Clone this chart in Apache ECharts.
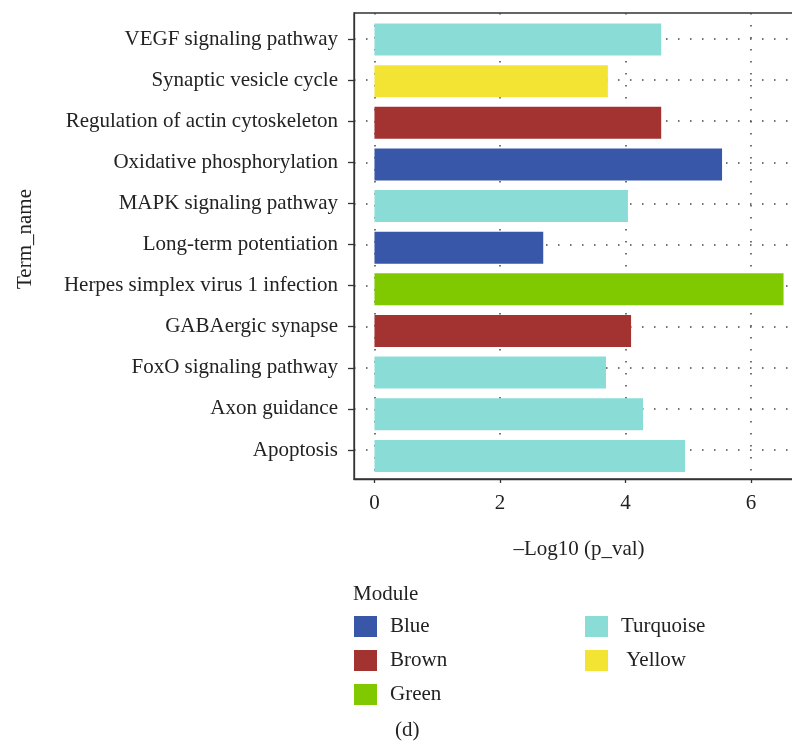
<!DOCTYPE html>
<html>
<head>
<meta charset="utf-8">
<script src="https://cdn.jsdelivr.net/npm/echarts@6/dist/echarts.min.js"></script>
<style>
  html, body { margin: 0; padding: 0; background: #fff; }
  #chart { width: 792px; height: 741px; }
</style>
</head>
<body>
<div id="chart"></div>
<script>
// KEGG pathway enrichment per co-expression module
const categories = [
  'VEGF signaling pathway',
  'Synaptic vesicle cycle',
  'Regulation of actin cytoskeleton',
  'Oxidative phosphorylation',
  'MAPK signaling pathway',
  'Long-term potentiation',
  'Herpes simplex virus 1 infection',
  'GABAergic synapse',
  'FoxO signaling pathway',
  'Axon guidance',
  'Apoptosis'
];
const logP = [4.57, 3.72, 4.57, 5.54, 4.04, 2.69, 6.52, 4.09, 3.69, 4.28, 4.95];
const termModule = ['Turquoise', 'Yellow', 'Brown', 'Blue', 'Turquoise', 'Blue',
                    'Green', 'Brown', 'Turquoise', 'Turquoise', 'Turquoise'];
const moduleNames = ['Blue', 'Brown', 'Green', 'Turquoise', 'Yellow'];
const moduleColors = ['#3957A8', '#A23330', '#80C800', '#8ADDD7', '#F3E434'];
const xTicks = [0, 2, 4, 6];

const FONT = 'Liberation Serif';
const FS = 21;
const INK = '#222';
const AXIS = '#333';

// panel range with 5% padding on both sides of the data
const dataMax = Math.max(...logP);
const xMin = -0.05 * dataMax;
const xMax = dataMax * 1.05;

// the panel runs past the right edge of the canvas
const gridLeft = 354;
const gridWidth = 450;
const gridCommon = { left: gridLeft, width: gridWidth, containLabel: false, outerBoundsMode: 'none' };

const chart = echarts.init(document.getElementById('chart'), null, { renderer: 'canvas' });

const dotted = { color: '#444', width: 1.5, type: [1.5, 10.5] };

const series = moduleNames.map((m, i) => ({
  name: m,
  type: 'bar',
  xAxisIndex: 1,
  yAxisIndex: 1,
  stack: 'terms',
  barWidth: 32,
  itemStyle: { color: moduleColors[i] },
  emphasis: { disabled: true },
  data: logP.map((v, j) => termModule[j] === m ? v : '-'),
  z: 3
}));

const legendBase = {
  orient: 'vertical',
  top: 616,
  itemWidth: 23,
  itemHeight: 21,
  itemGap: 13,
  icon: 'rect',
  padding: 0,
  selectedMode: false,
  textStyle: { fontFamily: FONT, fontSize: FS, color: INK, padding: [0, 0, 0, 8] }
};

chart.setOption({
  animation: false,
  textStyle: { fontFamily: FONT },
  title: [
    { text: 'Module', left: 353, top: 584, padding: 0,
      textStyle: { fontFamily: FONT, fontSize: FS, fontWeight: 'normal', color: INK } },
    { text: '(d)', left: 395, top: 720, padding: 0,
      textStyle: { fontFamily: FONT, fontSize: FS, fontWeight: 'normal', color: INK } }
  ],
  legend: [
    Object.assign({}, legendBase, { left: 354, data: ['Blue', 'Brown', 'Green'] }),
    Object.assign({}, legendBase, { left: 585, data: ['Turquoise', 'Yellow'],
      formatter: n => n === 'Yellow' ? ' ' + n : n })
  ],
  grid: [
    // panel frame, x axis and vertical guides
    Object.assign({ top: 13, height: 466, show: true,
      borderColor: AXIS, borderWidth: 1.3, backgroundColor: 'transparent' }, gridCommon),
    // bars
    Object.assign({ top: 18.7, height: 458 }, gridCommon),
    // term labels and horizontal guides
    Object.assign({ top: 39, height: 411 }, gridCommon)
  ],
  xAxis: [
    {
      gridIndex: 0, type: 'value', min: xMin, max: xMax,
      axisLine: { show: true, onZero: false, lineStyle: { color: AXIS, width: 1.3 } },
      axisTick: { show: true, length: 4, customValues: xTicks, lineStyle: { color: AXIS, width: 1.3 } },
      axisLabel: { customValues: xTicks, margin: 14, fontFamily: FONT, fontSize: FS, color: INK },
      splitLine: { show: true, lineStyle: dotted },
      name: '\u2013Log10 (p_val)',
      nameLocation: 'middle',
      nameGap: 60,
      nameTextStyle: { fontFamily: FONT, fontSize: FS, color: INK }
    },
    { gridIndex: 1, type: 'value', min: xMin, max: xMax, show: false },
    { gridIndex: 2, type: 'value', min: xMin, max: xMax, show: false }
  ],
  yAxis: [
    {
      gridIndex: 0, type: 'value', min: 0, max: 1,
      axisLine: { show: true, onZero: false, lineStyle: { color: AXIS, width: 1.3 } },
      axisTick: { show: false }, axisLabel: { show: false }, splitLine: { show: false },
      name: 'Term_name',
      nameLocation: 'middle',
      nameGap: 318,
      nameTextStyle: { fontFamily: FONT, fontSize: FS, color: INK, padding: [0, 0, 0, 14] }
    },
    {
      gridIndex: 1, type: 'category', data: categories, inverse: true,
      axisLine: { show: false }, axisTick: { show: false }, axisLabel: { show: false },
      splitLine: { show: false }
    },
    {
      gridIndex: 2, type: 'category', data: categories, inverse: true, boundaryGap: false,
      axisLine: { show: false, onZero: false },
      axisTick: { show: true, length: 6, lineStyle: { color: AXIS, width: 1.3 } },
      axisLabel: { margin: 16, fontFamily: FONT, fontSize: FS, color: INK },
      splitLine: { show: true, lineStyle: dotted }
    }
  ],
  series: series
});
</script>
</body>
</html>
